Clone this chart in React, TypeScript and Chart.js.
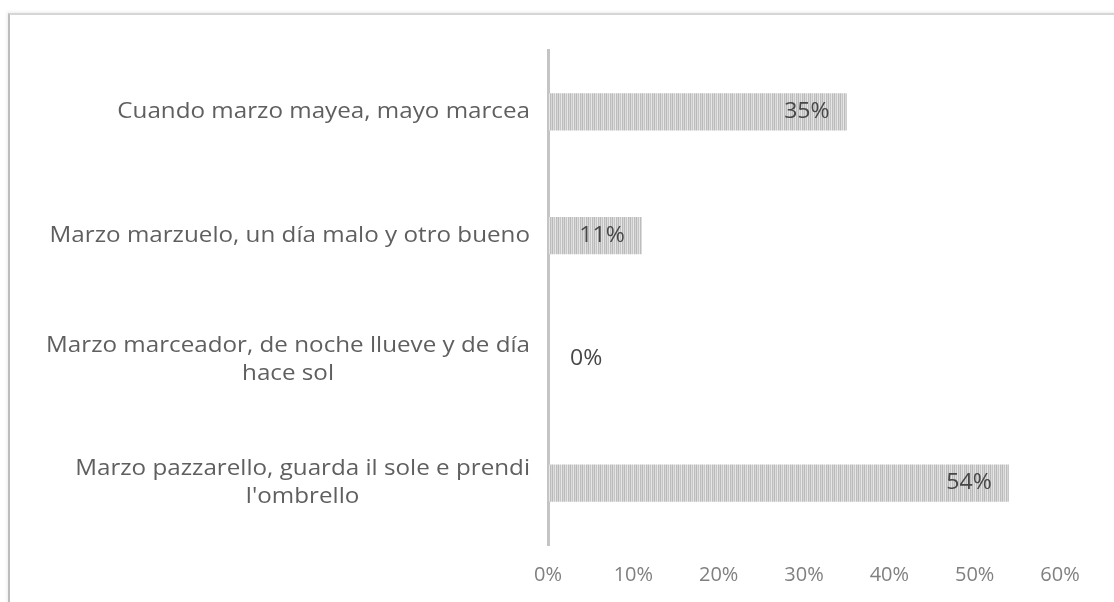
import React, { useEffect, useRef } from "react";
import { Chart, registerables } from "chart.js";

Chart.register(...registerables);

const categories: string[][] = [
  ["Cuando marzo mayea, mayo marcea"],
  ["Marzo marzuelo, un día malo y otro bueno"],
  ["Marzo marceador, de noche llueve y de día", "hace sol"],
  ["Marzo pazzarello, guarda il sole e prendi", "l'ombrello"],
];
const values: number[] = [35, 11, 0, 54];
const xTicks: number[] = [0, 10, 20, 30, 40, 50, 60];

const FONT = "'Open Sans', 'DejaVu Sans', sans-serif";
const STRETCH = 1.1;

function makePattern(): CanvasPattern | string {
  const c = document.createElement("canvas");
  c.width = 6;
  c.height = 4;
  const g = c.getContext("2d");
  if (!g) return "#d0d0d0";
  const cols = ["#b9b9b9", "#dddddd", "#c5c5c5", "#e6e6e6", "#bdbdbd", "#d6d6d6"];
  cols.forEach((col, i) => {
    g.fillStyle = col;
    g.fillRect(i, 0, 1, 4);
  });
  const p = g.createPattern(c, "repeat");
  return p || "#d0d0d0";
}

function drawStretched(ctx: CanvasRenderingContext2D, text: string, x: number, y: number, align: "left" | "right" | "center") {
  ctx.save();
  ctx.translate(x, y);
  ctx.scale(STRETCH, 1);
  ctx.textAlign = align;
  ctx.fillText(text, 0, 0);
  ctx.restore();
}

const yLabelPlugin = {
  id: "yLabelPlugin",
  afterDraw(chart: any) {
    const scale = chart.scales.y;
    const ctx = chart.ctx;
    ctx.save();
    ctx.font = `22px ${FONT}`;
    ctx.fillStyle = "#5f5f5f";
    ctx.textBaseline = "middle";
    const lh = 28;
    const right = scale.right - 18;
    categories.forEach((lines, i) => {
      const y = scale.getPixelForTick(i);
      const w = Math.max(...lines.map((l) => ctx.measureText(l).width)) * STRETCH;
      const cx = right - w / 2;
      const y0 = y - ((lines.length - 1) * lh) / 2;
      lines.forEach((l, j) => drawStretched(ctx, l, cx, y0 + j * lh, "center"));
    });
    ctx.restore();
  },
};

const dataLabelPlugin = {
  id: "dataLabelPlugin",
  afterDatasetsDraw(chart: any) {
    const meta = chart.getDatasetMeta(0);
    const ctx = chart.ctx;
    ctx.save();
    ctx.font = `21px ${FONT}`;
    ctx.fillStyle = "#474747";
    ctx.textBaseline = "middle";
    meta.data.forEach((bar: any, i: number) => {
      const v = values[i];
      const txt = `${v}%`;
      if (v > 0) {
        drawStretched(ctx, txt, bar.x - 17, bar.y, "right");
      } else {
        drawStretched(ctx, txt, bar.base + 22, bar.y, "left");
      }
    });
    ctx.restore();
  },
};

export default function App() {
  const ref = useRef<HTMLCanvasElement | null>(null);
  useEffect(() => {
    if (!ref.current) return;
    const chart = new Chart(ref.current, {
      type: "bar",
      data: {
        labels: categories.map((c) => c.join(" ")),
        datasets: [
          {
            data: values,
            backgroundColor: makePattern() as any,
            borderWidth: 0,
            barPercentage: 0.3,
            categoryPercentage: 1,
          },
        ],
      },
      options: {
        indexAxis: "y",
        responsive: false,
        animation: false,
        layout: { padding: { left: 0, top: 50, right: 54, bottom: 12 } },
        plugins: {
          legend: { display: false },
          tooltip: { enabled: false },
        },
        scales: {
          x: {
            min: 0,
            max: 60,
            afterBuildTicks: (s: any) => {
              s.ticks = xTicks.map((v) => ({ value: v }));
            },
            afterFit: (s: any) => {
              s.height = 45;
            },
            grid: { display: false, drawTicks: false },
            border: { display: false },
            ticks: {
              padding: 18,
              color: "#808080",
              font: { family: FONT, size: 20 },
              callback: (v: any) => `${v}%`,
            },
          },
          y: {
            afterFit: (s: any) => {
              s.width = 548;
            },
            grid: { display: false, drawTicks: false },
            border: { display: true, color: "#c4c4c4", width: 3 },
            ticks: { display: false },
          },
        },
      },
      plugins: [yLabelPlugin, dataLabelPlugin],
    });
    return () => chart.destroy();
  }, []);
  return (
    <div>
      <canvas
        ref={ref}
        width={1114}
        height={602}
        style={{ position: "fixed", left: 0, top: 0, display: "block" }}
      />
      <div
        style={{
          position: "fixed",
          left: 8,
          top: 13,
          right: -20,
          bottom: -20,
          borderTop: "2px solid #d6d6d6",
          borderLeft: "2px solid #bdbdbd",
          boxShadow: "-1px -1px 3px rgba(0,0,0,0.08)",
          pointerEvents: "none",
        }}
      />
    </div>
  );
}
